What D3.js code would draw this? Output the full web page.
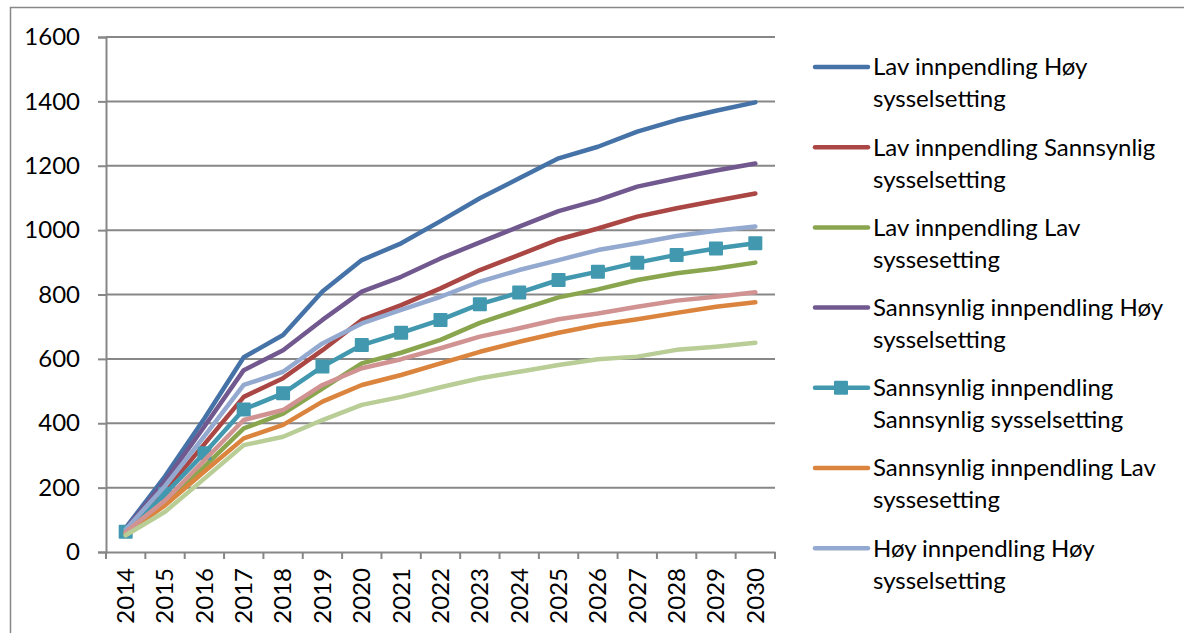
<!DOCTYPE html>
<html><head><meta charset="utf-8">
<script src="https://cdn.jsdelivr.net/npm/d3@7"></script>
<style>
html,body{margin:0;padding:0;background:#fff;}
svg{display:block;font-family:Lato, "Open Sans", sans-serif;}
</style></head>
<body>
<svg id="chart" width="1184" height="633"></svg>
<script>
const years = ["2014","2015","2016","2017","2018","2019","2020","2021","2022","2023","2024","2025","2026","2027","2028","2029","2030"];
const yTicks = [0,200,400,600,800,1000,1200,1400,1600];

const lavHoy      = [75,235,415,605,674,809,907,959,1028,1099,1161,1223,1259,1306,1342,1371,1397];
const lavSann     = [68,190,335,482,540,627,721,767,819,876,923,971,1005,1042,1068,1091,1114];
const lavLav      = [55,150,265,384,430,508,586,619,659,712,752,791,816,845,866,881,899];
const sannHoy     = [72,220,390,565,627,721,809,855,912,962,1011,1059,1093,1135,1161,1185,1207];
const sannSann    = [63,180,307,443,493,576,643,681,721,770,806,845,871,899,923,943,959];
const sannLav     = [58,145,250,353,395,467,519,550,586,622,653,681,705,723,743,762,776];
const hoyHoy      = [70,205,360,519,560,648,710,752,793,840,876,907,938,959,982,998,1011];
const hoySann     = [62,160,285,410,441,519,571,599,633,669,695,723,741,762,781,793,807];
const hoyLav      = [52,125,228,332,358,410,457,482,512,540,560,581,599,607,628,638,650];

const seriesNames = [
  ["Lav innpendling Høy", "sysselsetting"],
  ["Lav innpendling Sannsynlig", "sysselsetting"],
  ["Lav innpendling Lav", "syssesetting"],
  ["Sannsynlig innpendling Høy", "sysselsetting"],
  ["Sannsynlig innpendling", "Sannsynlig sysselsetting"],
  ["Sannsynlig innpendling Lav", "syssesetting"],
  ["Høy innpendling Høy", "sysselsetting"],
  ["Høy innpendling Sannsynlig", "sysselsetting"],
  ["Høy innpendling Lav", "syssesetting"]
];
const seriesValues = [lavHoy, lavSann, lavLav, sannHoy, sannSann, sannLav, hoyHoy, hoySann, hoyLav];
const colors = ["#4572A7","#AA4643","#89A54E","#71588F","#4198AF","#DB843D","#93A9CF","#D19392","#B9CD96"];
const markerSeries = 4;
const legendCount = 7;

const svg = d3.select("#chart");
const grid = "#878787";

// outer frame
svg.append("path").attr("d","M10.5,633 V7.5 H1184").attr("fill","none").attr("stroke",grid).attr("stroke-width",1.5);

const x = d3.scaleBand().domain(years).range([106,775]).padding(0);
const y = d3.scaleLinear().domain([0,1600]).range([552,37]);
const cx = d => x(d) + x.bandwidth()/2;

// gridlines
svg.append("g").selectAll("line").data(yTicks.slice(1)).join("line")
  .attr("x1",106).attr("x2",775).attr("y1",d=>y(d)).attr("y2",d=>y(d))
  .attr("stroke",grid).attr("stroke-width",2);

// y axis
const yAxis = svg.append("g").attr("transform","translate(106,0)")
  .call(d3.axisLeft(y).tickValues(yTicks).tickFormat(d3.format("d")).tickSize(8).tickPadding(18));
yAxis.select(".domain").attr("stroke",grid).attr("stroke-width",2);
yAxis.selectAll(".tick line").attr("stroke",grid).attr("stroke-width",2);
yAxis.selectAll("text").attr("font-size",24).attr("fill","#000").attr("font-family","Lato");

// x axis
const xAxis = svg.append("g").attr("transform","translate(0,552)")
  .call(d3.axisBottom(x).tickSize(0).tickSizeOuter(0));
xAxis.select(".domain").attr("stroke",grid).attr("stroke-width",2);
xAxis.selectAll(".tick text")
  .attr("font-size",24).attr("fill","#000").attr("font-family","Lato")
  .attr("text-anchor","end").attr("dy","0.35em")
  .attr("transform","translate(0,16) rotate(-90)").attr("x",0).attr("y",0);
// boundary ticks
const bounds = years.map(d=>x(d)).concat([775]);
svg.append("g").selectAll("line").data(bounds).join("line")
  .attr("x1",d=>d).attr("x2",d=>d).attr("y1",552).attr("y2",559)
  .attr("stroke",grid).attr("stroke-width",2);

// lines, drawn in series order (later series on top)
const line = d3.line().x((d,i)=>cx(years[i])).y(d=>y(d));
seriesValues.forEach((vals,s)=>{
  svg.append("path").datum(vals).attr("d",line)
    .attr("fill","none").attr("stroke",colors[s]).attr("stroke-width",4.5)
    .attr("stroke-linejoin","round").attr("stroke-linecap","round");
  if (s===markerSeries) {
    svg.append("g").selectAll("rect").data(vals).join("rect")
      .attr("x",(d,i)=>cx(years[i])-7).attr("y",d=>y(d)-7)
      .attr("width",14).attr("height",14).attr("fill",colors[s]).attr("rx",1);
  }
});

// legend
const leg = svg.append("g");
for (let i=0;i<legendCount;i++){
  const ly = 67 + i*80.2;
  const g = leg.append("g").attr("transform",`translate(0,${ly})`);
  g.append("line").attr("x1",815).attr("x2",868).attr("y1",0).attr("y2",0)
    .attr("stroke",colors[i]).attr("stroke-width",4.5).attr("stroke-linecap","round");
  if (i===markerSeries) g.append("rect").attr("x",834).attr("y",-7).attr("width",14).attr("height",14).attr("fill",colors[i]).attr("rx",1);
  g.append("text").attr("x",873).attr("y",0).attr("dy","0.35em").attr("font-size",24).attr("fill","#000").text(seriesNames[i][0]);
  g.append("text").attr("x",873).attr("y",32).attr("dy","0.35em").attr("font-size",24).attr("fill","#000").text(seriesNames[i][1]);
}
</script>
</body></html>
